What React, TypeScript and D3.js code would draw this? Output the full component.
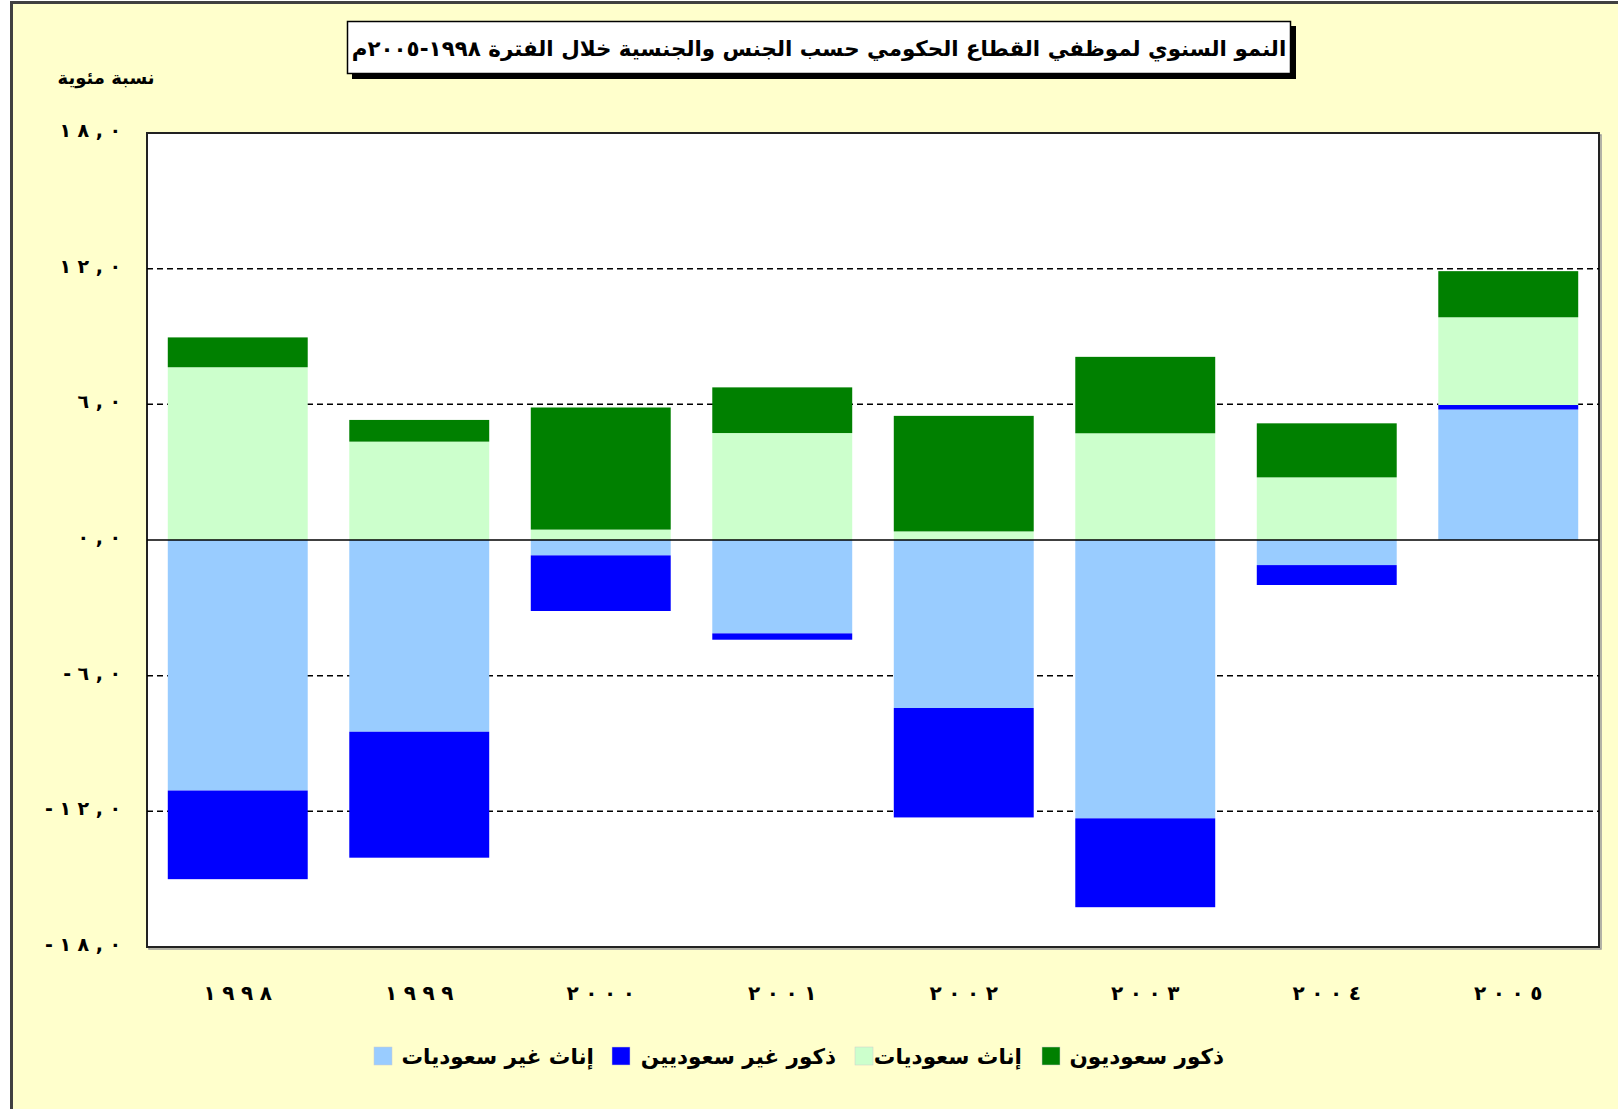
import React from "react";
import * as d3 from "d3";

const years = ["1998", "1999", "2000", "2001", "2002", "2003", "2004", "2005"];
const yearLabels = ["١٩٩٨", "١٩٩٩", "٢٠٠٠", "٢٠٠١", "٢٠٠٢", "٢٠٠٣", "٢٠٠٤", "٢٠٠٥"];
const nonSaudiFemales = [-11.08, -8.48, -0.68, -4.13, -7.43, -12.31, -1.11, 5.77];
const nonSaudiMales = [-3.92, -5.57, -2.46, -0.28, -4.84, -3.93, -0.88, 0.2];
const saudiFemales = [7.64, 4.35, 0.46, 4.73, 0.38, 4.72, 2.77, 3.88];
const saudiMales = [1.32, 0.96, 5.4, 2.02, 5.11, 3.38, 2.39, 2.04];
const yTicks = [18, 12, 6, 0, -6, -12, -18];
const yTickLabels = ["١٨,٠", "١٢,٠", "٦,٠", "٠,٠", "-٦,٠", "-١٢,٠", "-١٨,٠"];

const seriesKeys = ["nsf", "nsm", "sf", "sm"];
const seriesNames: Record<string, string> = {
  nsf: "إناث غير سعوديات",
  nsm: "ذكور غير سعوديين",
  sf: "إناث سعوديات",
  sm: "ذكور سعوديون",
};
const colors: Record<string, string> = {
  nsf: "#99CCFF",
  nsm: "#0000FF",
  sf: "#CCFFCC",
  sm: "#008000",
};
const legendOrder = ["nsf", "nsm", "sf", "sm"];

const title = "النمو السنوي لموظفي القطاع الحكومي حسب الجنس والجنسية خلال الفترة ١٩٩٨-٢٠٠٥م";
const yTitle = "نسبة مئوية";

function spaced(label: string, gap: number) {
  return Array.from(label).map((ch, i) => (
    <tspan key={i} dx={i === 0 ? 0 : gap}>{ch}</tspan>
  ));
}

export default function App() {
  const W = 1618, H = 1109;
  const plot = { x0: 147, x1: 1599, y0: 133, y1: 947 };
  const font = "'DejaVu Sans', Arial, sans-serif";

  const rows = years.map((y, i) => ({
    year: y,
    nsf: nonSaudiFemales[i],
    nsm: nonSaudiMales[i],
    sf: saudiFemales[i],
    sm: saudiMales[i],
  }));
  const stack = d3.stack<any>().keys(seriesKeys).offset(d3.stackOffsetDiverging);
  const layers = stack(rows);

  const x = d3.scaleBand<string>().domain(years).range([plot.x0, plot.x1]).paddingInner(0.229).paddingOuter(0.1145);
  const y = d3.scaleLinear().domain([-18, 18]).range([plot.y1, plot.y0]);

  const legendX: Record<string, number> = { nsf: 374, nsm: 612, sf: 855, sm: 1042 };
  const legendTextX: Record<string, number> = { nsf: 594, nsm: 836, sf: 1022, sm: 1224 };

  return (
    <svg width={W} height={H} style={{ position: "absolute", left: 0, top: 0 }} fontFamily={font}>
      <rect x={0} y={0} width={W} height={H} fill="#ffffff" />
      <rect x={11.5} y={2.5} width={W + 20} height={H + 20} fill="#FFFFCC" stroke="#404040" strokeWidth={3} />

      {/* title box */}
      <rect x={352} y={26} width={944} height={53} fill="#000" />
      <rect x={347.5} y={21.5} width={943} height={52} fill="#fff" stroke="#000" strokeWidth={1.5} />
      <text x={819} y={48} textAnchor="middle" dominantBaseline="central" fontSize={21.4} fontWeight="bold" direction="rtl">
        {title}
      </text>

      <text x={106} y={77} textAnchor="middle" dominantBaseline="central" fontSize={18} fontWeight="bold" direction="rtl">
        {yTitle}
      </text>

      {/* plot area */}
      <rect x={plot.x0 + 2} y={plot.y0 + 2} width={plot.x1 - plot.x0} height={plot.y1 - plot.y0} fill="none" stroke="#999" strokeWidth={1.5} />
      <rect x={plot.x0} y={plot.y0} width={plot.x1 - plot.x0} height={plot.y1 - plot.y0} fill="#fff" stroke="#222" strokeWidth={2} />

      {yTicks.filter((t) => t !== 0 && Math.abs(t) !== 18).map((t) => (
        <line key={t} x1={plot.x0} x2={plot.x1} y1={y(t)} y2={y(t)} stroke="#000" strokeWidth={1.5} strokeDasharray="6,4" />
      ))}

      {layers.map((layer) => (
        <g key={layer.key} fill={colors[layer.key]}>
          {layer.map((d, i) => {
            const top = y(Math.max(d[0], d[1]));
            const bot = y(Math.min(d[0], d[1]));
            return (
              <rect key={i} x={x(years[i])} width={x.bandwidth()} y={top} height={Math.max(0, bot - top)} />
            );
          })}
        </g>
      ))}

      <line x1={plot.x0} x2={plot.x1} y1={y(0)} y2={y(0)} stroke="#000" strokeWidth={1.5} />

      {yTicks.map((t, i) => (
        <text key={t} x={121} y={y(t) - 3} textAnchor="end" dominantBaseline="central" fontSize={19} fontWeight="bold"
          direction="ltr" unicodeBidi="bidi-override">
          {spaced(yTickLabels[i], 6.5)}
        </text>
      ))}

      {years.map((yr, i) => (
        <text key={yr} x={(x(yr) as number) + x.bandwidth() / 2} y={993} textAnchor="middle" dominantBaseline="central"
          fontSize={20} fontWeight="bold" direction="ltr" unicodeBidi="bidi-override">
          {spaced(yearLabels[i], 6.5)}
        </text>
      ))}

      {legendOrder.map((k) => (
        <g key={k}>
          <rect x={legendX[k]} y={1047} width={18} height={18} fill={colors[k]} stroke="#ccc" strokeWidth={0.5} />
          <text x={legendTextX[k]} y={1056} textAnchor="end" dominantBaseline="central" fontSize={21.5} fontWeight="bold" direction="ltr">
            {seriesNames[k]}
          </text>
        </g>
      ))}
    </svg>
  );
}
